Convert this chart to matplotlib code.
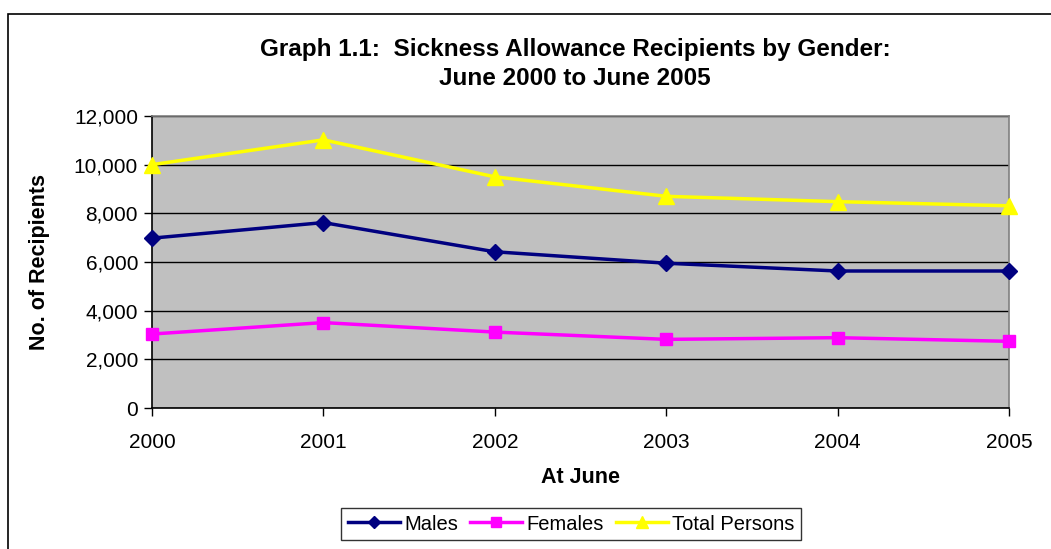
import matplotlib.pyplot as plt
from matplotlib.patches import Rectangle
from matplotlib.ticker import FuncFormatter

# Data (June of each year)
years = [2000, 2001, 2002, 2003, 2004, 2005]
males = [6980, 7620, 6420, 5950, 5630, 5630]
females = [3040, 3510, 3120, 2820, 2890, 2740]
total = [10000, 11020, 9500, 8700, 8480, 8310]

plt.rcParams['font.family'] = ['Liberation Sans', 'DejaVu Sans']

fig = plt.figure(figsize=(10.51, 5.49), dpi=100)

# outer chart frame (clipped at right and bottom like the original)
fig.patches.append(Rectangle((8 / 1051, -0.1), 1.2, 1 - 14 / 549 + 0.1,
                             transform=fig.transFigure, fill=False,
                             edgecolor='black', linewidth=1.2))

ax = fig.add_axes([152 / 1051, 1 - 408 / 549, (1009 - 152) / 1051, (408 - 116) / 549])
ax.set_facecolor('#C0C0C0')

ax.plot(years, males, color='#000080', linewidth=2.5, marker='D', markersize=8,
        label='Males', clip_on=False, zorder=3)
ax.plot(years, females, color='#FF00FF', linewidth=2.5, marker='s', markersize=9,
        label='Females', clip_on=False, zorder=3)
ax.plot(years, total, color='#FFFF00', linewidth=2.5, marker='^', markersize=11,
        label='Total Persons', clip_on=False, zorder=3)

ax.set_xlim(2000, 2005)
ax.set_ylim(0, 12000)
ax.set_xticks(years)
ax.set_yticks(range(0, 12001, 2000))
ax.yaxis.set_major_formatter(FuncFormatter(lambda v, p: f'{int(v):,}'))
ax.grid(axis='y', color='black', linewidth=1)
ax.set_axisbelow(True)

for side in ['top', 'right']:
    ax.spines[side].set_color('#808080')
    ax.spines[side].set_linewidth(1.2)
for side in ['left', 'bottom']:
    ax.spines[side].set_color('black')
    ax.spines[side].set_linewidth(1.2)

ax.tick_params(axis='both', labelsize=15, direction='out', length=6, width=1)
ax.tick_params(axis='x', pad=12)
ax.tick_params(axis='y', pad=4)

ax.set_xlabel('At June', fontsize=15.5, fontweight='bold', labelpad=11)
ax.set_ylabel('No. of Recipients', fontsize=15.5, fontweight='bold', labelpad=17)

fig.text(575 / 1051, 1 - 64 / 549, 'Graph 1.1:  Sickness Allowance Recipients by Gender:\nJune 2000 to June 2005',
         ha='center', va='center', fontsize=17.5, fontweight='bold', linespacing=1.35)

leg = fig.legend(loc='center', bbox_to_anchor=(571 / 1051, 1 - 524 / 549), ncol=3,
                 fontsize=14.5, frameon=True, fancybox=False, edgecolor='black',
                 handlelength=2.6, handletextpad=0.2, columnspacing=0.6,
                 borderpad=0.32, borderaxespad=0, markerscale=0.8)
leg.get_frame().set_linewidth(1)

fig.savefig('out.png', dpi=100)
